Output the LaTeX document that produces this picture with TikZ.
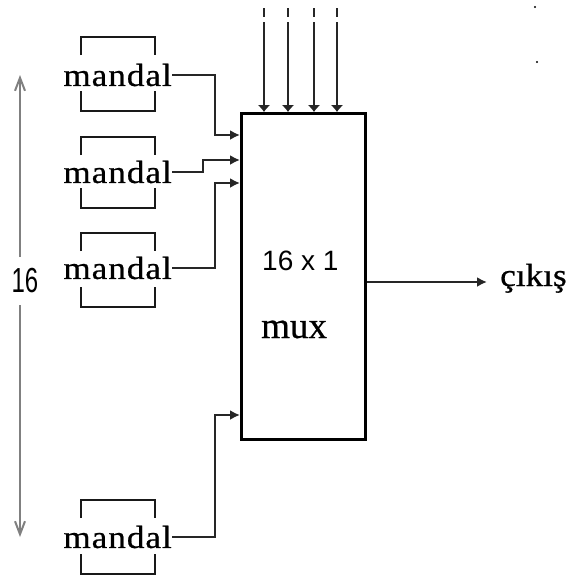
\documentclass[tikz,border=0pt]{standalone}
\usepackage{fontspec}
\setmainfont{Liberation Serif}
\newfontfamily\arialf{Liberation Sans}
\usetikzlibrary{arrows.meta}
\begin{document}
\begin{tikzpicture}[x=1pt,y=-1pt,
  conn/.style={line width=2pt, draw=black!85},
  inarrow/.style={conn, -{Latex[length=10pt,width=10pt]}},
  toparrow/.style={conn, -{Latex[length=7pt,width=13pt]}},
  bracket/.style={line width=2.6pt, draw=black!90},
  sw/.style={font=\fontsize{32}{32}\selectfont\addfontfeatures{FakeStretch=1.1,LetterSpace=3,FakeBold=0.6}, inner sep=0pt, anchor=east},
  muxbox/.style={draw, line width=2.6pt, minimum width=124pt, minimum height=326pt, anchor=north west, inner sep=0pt},
  span/.style={line width=2pt, draw=black!50, -{Straight Barb[length=13pt,width=10pt]}}]
\useasboundingbox (0,0) rectangle (569,579);
% mux box
\node[muxbox] (mux) at (240,112) {};
\node[anchor=base west, inner sep=0pt, font=\arialf\fontsize{28}{28}\selectfont] (lab1) at (262,270) {16 x 1};
\node[anchor=base west, inner sep=0pt, font=\fontsize{37}{37}\selectfont\addfontfeatures{FakeBold=0.6}] (lab2) at (261,338) {mux};
% switches
\node[sw] (m1) at (172,75) {mandal};
\node[sw] (m2) at (172,172) {mandal};
\node[sw] (m3) at (172,268) {mandal};
\node[sw] (m4) at (172,537) {mandal};
\foreach \cy/\tb/\bb in {75/37/111, 172/137/208, 268/233/307, 537/500/574}{
  \draw[bracket] (81,\tb+18) -- (81,\tb) -- (155,\tb) -- (155,\tb+18);
  \draw[bracket] (81,\bb-20) -- (81,\bb) -- (155,\bb) -- (155,\bb-20);
}
% input connectors
\draw[inarrow] (m1.east) -- (215,75) -- (215,135) -- (mux.west |- 0,135);
\draw[inarrow] (m2.east) -- (203,172) -- (203,160) -- (mux.west |- 0,160);
\draw[inarrow] (m3.east) -- (215,268) -- (215,183) -- (mux.west |- 0,183);
\draw[inarrow] (m4.east) -- (215,537) -- (215,415) -- (mux.west |- 0,415);
% select lines
\foreach \i/\x in {1/264,2/288,3/314,4/337}{
  \coordinate (t\i) at (\x,22);
  \draw[conn] (\x,8) -- (\x,17);
  \draw[toparrow] (t\i) -- (t\i |- mux.north);
}
% output
\coordinate (outtip) at (487,282);
\draw[conn, -{Latex[length=10pt,width=10pt]}] (mux.east |- outtip) -- (outtip);
\node[anchor=base west, inner sep=0pt, font=\fontsize{32}{32}\selectfont\addfontfeatures{FakeStretch=1.1,FakeBold=0.6}] (out) at (500,286) {çıkış};
% 16 span
\node[inner sep=0pt, font=\arialf\fontsize{24}{24}\selectfont] (n16) at (25,281) {\scalebox{1}[1.45]{16}};
\coordinate (sp1) at (20,75);
\coordinate (sp2) at (20,537);
\draw[span] (20,257) -- (sp1);
\draw[span] (20,305) -- (sp2);
% stray dots
\fill (535,7) circle (1.2);
\fill (537,62) circle (1.2);
\end{tikzpicture}
\end{document}
